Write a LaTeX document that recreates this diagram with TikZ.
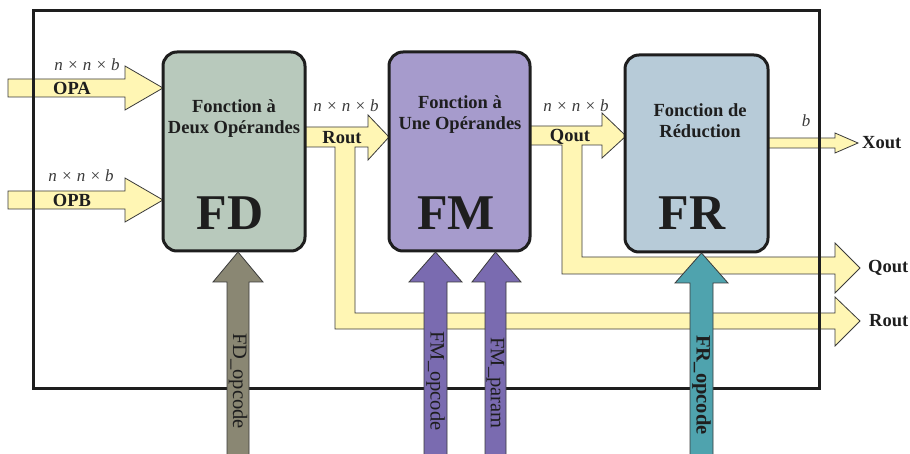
\documentclass[tikz,border=0pt]{standalone}
\usepackage{fontspec}
\setmainfont{Liberation Serif}
\definecolor{yel}{HTML}{FFF6B4}
\definecolor{edge}{HTML}{3A3A3A}
\definecolor{fdc}{HTML}{B8C9BC}
\definecolor{fmc}{HTML}{A69BCC}
\definecolor{frc}{HTML}{B7CBD8}
\definecolor{fdop}{HTML}{8A8773}
\definecolor{fmop}{HTML}{7A6BB0}
\definecolor{frop}{HTML}{4FA3AE}
\definecolor{ink}{HTML}{1E1E1E}
\tikzset{
  yarrow/.style={fill=yel, draw=edge, line width=0.8pt, line join=miter},
  oparrow/.style={draw=edge, line width=0.8pt, line join=miter},
  fbox/.style={draw=ink, line width=3pt, rounded corners=14pt, inner sep=0pt},
  ttl/.style={font=\fontsize{18.5}{21}\selectfont\bfseries, text=ink, align=center, inner sep=0pt},
  big/.style={font=\fontsize{50}{50}\selectfont\bfseries, text=ink, inner sep=0pt},
  dim/.style={font=\fontsize{17}{17}\selectfont\itshape, text=edge, inner sep=0pt},
  lbl/.style={font=\fontsize{18.5}{18.5}\selectfont\bfseries, text=ink, inner sep=0pt},
  vlbl/.style={font=\fontsize{20.5}{20.5}\selectfont, text=ink, inner sep=0pt, rotate=-90},
}
\begin{document}
\begin{tikzpicture}[x=1pt,y=-1pt]
\useasboundingbox (0,0) rectangle (910,454);
% yellow data arrows
\draw[yarrow] (8,79) -- (125,79) -- (125,66) -- (163,88) -- (125,110) -- (125,97) -- (8,97) -- cycle;
\draw[yarrow] (8,191) -- (125,191) -- (125,178) -- (163,200) -- (125,222) -- (125,209) -- (8,209) -- cycle;
\draw[yarrow] (305,127) -- (368,127) -- (368,115) -- (389,137) -- (368,160) -- (368,147) -- (355,147)
  -- (355,313) -- (835,313) -- (835,297) -- (860,321) -- (835,346) -- (835,329) -- (335,329) -- (335,147) -- (305,147) -- cycle;
\draw[yarrow] (530,126) -- (602,126) -- (602,113) -- (626,136) -- (602,158) -- (602,145) -- (582,145)
  -- (582,257) -- (835,257) -- (835,243) -- (860,268) -- (835,293) -- (835,274) -- (562,274) -- (562,145) -- (530,145) -- cycle;
\draw[yarrow] (768,138) -- (835,138) -- (835,133) -- (858,143) -- (835,153) -- (835,148) -- (768,148) -- cycle;
% frame
\draw[ink, line width=3pt] (33,11) rectangle (819,388);
% boxes
\node[fbox, fill=fdc, minimum width=142pt, minimum height=199pt] (FD) at (234,151.5) {};
\node[fbox, fill=fmc, minimum width=141pt, minimum height=199pt] (FM) at (459.5,151.5) {};
\node[fbox, fill=frc, minimum width=143pt, minimum height=197pt] (FR) at (696.5,153.5) {};
% opcode arrows
\draw[oparrow, fill=fdop] (227,456) -- (227,282) -- (213,282) -- (238,252) -- (263,282) -- (249,282) -- (249,456);
\draw[oparrow, fill=fmop] (424,456) -- (424,282) -- (409,282) -- (435.5,252) -- (462,282) -- (447,282) -- (447,456);
\draw[oparrow, fill=fmop] (485,456) -- (485,282) -- (472,282) -- (495.5,252) -- (521,282) -- (506,282) -- (506,456);
\draw[oparrow, fill=frop] (690,456) -- (690,283) -- (675,283) -- (701.5,253) -- (728,283) -- (713,283) -- (713,456);
% box texts
\node[ttl] (FDt) at (234,118.5) {Fonction à\\Deux Opérandes};
\node[ttl] (FMt) at (460,115) {Fonction à\\Une Opérandes};
\node[ttl] (FRt) at (700,121) {Fonction de\\Réduction};
\node[big] (FDb) at (230,213) {FD};
\node[big] (FMb) at (456,213) {FM};
\node[big] (FRb) at (692,213) {FR};
% arrow labels
\node[dim] (dA) at (87,65) {n × n × b};
\node[lbl] (lA) at (72,88) {OPA};
\node[dim] (dB) at (81,176) {n × n × b};
\node[lbl] (lB) at (72,200) {OPB};
\node[dim] (dR) at (346,106) {n × n × b};
\node[lbl] (lR) at (342,138) {Rout};
\node[dim] (dQ) at (576,106) {n × n × b};
\node[lbl] (lQ) at (570,137) {Qout};
\node[dim] (dX) at (806,121) {b};
\node[lbl, anchor=west] (lX) at (862,143) {Xout};
\node[lbl, anchor=west] (lQo) at (868,268) {Qout};
\node[lbl, anchor=west] (lRo) at (869,321) {Rout};
\node[vlbl] (vFD) at (238,381) {FD\_opcode};
\node[vlbl] (vFM) at (435.5,381) {FM\_opcode};
\node[vlbl] (vFP) at (495.5,383) {FM\_param};
\node[vlbl, font=\fontsize{20.5}{20.5}\selectfont\bfseries] (vFR) at (701.5,385) {FR\_opcode};
\end{tikzpicture}
\end{document}
